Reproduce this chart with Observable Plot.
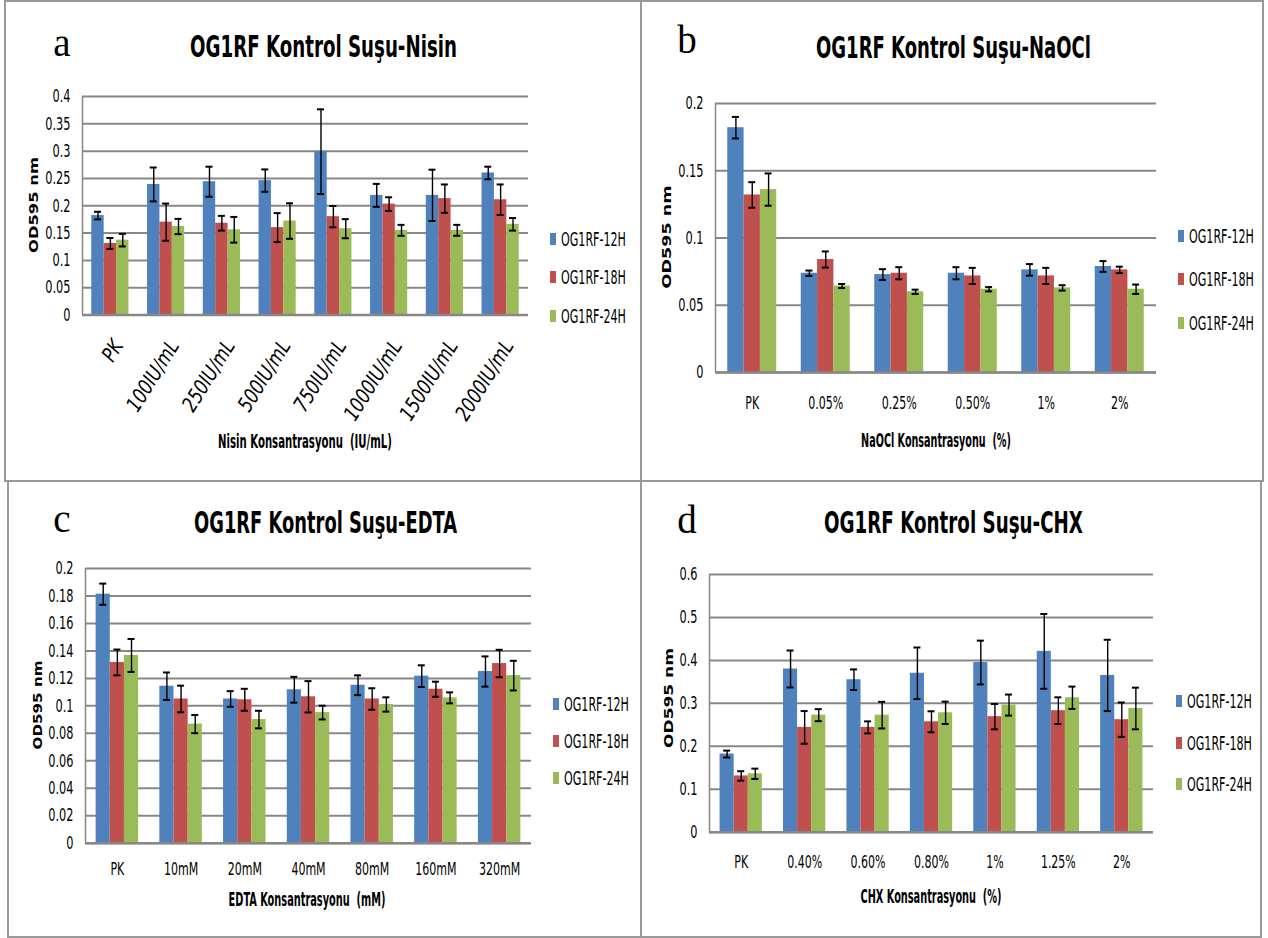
<!DOCTYPE html>
<html>
<head>
<meta charset="utf-8">
<script src="https://cdn.jsdelivr.net/npm/d3@7"></script>
<script src="https://cdn.jsdelivr.net/npm/@observablehq/plot@0.6"></script>
<style>
  html, body { margin: 0; padding: 0; background: #fff; }
  #page { position: relative; width: 1268px; height: 938px; overflow: hidden; background: #fff; }
  #page > svg { position: absolute; }
  #page > svg.rotated-ticks g[aria-label="x-axis tick label"] text { font-style: italic; }
</style>
</head>
<body>
<div id="page"></div>
<script>
// Series shared by all four panels
const series = ["OG1RF-12H", "OG1RF-18H", "OG1RF-24H"];
const seriesColors = ["#4f81bd", "#c0504d", "#9bbb59"];

// (a) Nisin
const nisinCategories = ["PK", "100IU/mL", "250IU/mL", "500IU/mL", "750IU/mL", "1000IU/mL", "1500IU/mL", "2000IU/mL"];
const nisin12h    = [0.182, 0.239, 0.244, 0.246, 0.299, 0.219, 0.219, 0.260];
const nisin12hErr = [0.007, 0.031, 0.0275, 0.0205, 0.0775, 0.021, 0.047, 0.0115];
const nisin18h    = [0.131, 0.170, 0.168, 0.160, 0.180, 0.203, 0.213, 0.211];
const nisin18hErr = [0.010, 0.034, 0.0135, 0.0265, 0.0195, 0.0125, 0.026, 0.028];
const nisin24h    = [0.137, 0.162, 0.156, 0.172, 0.158, 0.155, 0.155, 0.166];
const nisin24hErr = [0.0115, 0.014, 0.0235, 0.0325, 0.0175, 0.010, 0.010, 0.0115];
const nisinTicks  = [0, 0.05, 0.1, 0.15, 0.2, 0.25, 0.3, 0.35, 0.4];

// (b) NaOCl
const naoclCategories = ["PK", "0.05%", "0.25%", "0.50%", "1%", "2%"];
const naocl12h    = [0.182, 0.0738, 0.0728, 0.0738, 0.0763, 0.0788];
const naocl12hErr = [0.008, 0.002, 0.004, 0.0045, 0.0043, 0.004];
const naocl18h    = [0.132, 0.084, 0.0738, 0.0718, 0.0718, 0.0763];
const naocl18hErr = [0.0095, 0.006, 0.0045, 0.006, 0.006, 0.0024];
const naocl24h    = [0.136, 0.0643, 0.060, 0.0619, 0.0629, 0.0619];
const naocl24hErr = [0.012, 0.0015, 0.0016, 0.0016, 0.002, 0.0035];
const naoclTicks  = [0, 0.05, 0.1, 0.15, 0.2];

// (c) EDTA
const edtaCategories = ["PK", "10mM", "20mM", "40mM", "80mM", "160mM", "320mM"];
const edta12h    = [0.1813, 0.1143, 0.105, 0.1117, 0.115, 0.1216, 0.125];
const edta12hErr = [0.0077, 0.010, 0.0057, 0.0094, 0.0072, 0.0079, 0.011];
const edta18h    = [0.1316, 0.105, 0.1044, 0.1066, 0.105, 0.1121, 0.1308];
const edta18hErr = [0.0094, 0.0097, 0.008, 0.0114, 0.0078, 0.0055, 0.010];
const edta24h    = [0.1367, 0.0867, 0.090, 0.0951, 0.101, 0.1058, 0.122];
const edta24hErr = [0.012, 0.0066, 0.0064, 0.005, 0.0052, 0.004, 0.0108];
const edtaTicks  = [0, 0.02, 0.04, 0.06, 0.08, 0.1, 0.12, 0.14, 0.16, 0.18, 0.2];

// (d) CHX
const chxCategories = ["PK", "0.40%", "0.60%", "0.80%", "1%", "1.25%", "2%"];
const chx12h    = [0.182, 0.380, 0.355, 0.370, 0.395, 0.421, 0.365];
const chx12hErr = [0.008, 0.043, 0.024, 0.060, 0.051, 0.087, 0.083];
const chx18h    = [0.131, 0.244, 0.244, 0.257, 0.269, 0.283, 0.262];
const chx18hErr = [0.011, 0.038, 0.014, 0.0245, 0.0295, 0.031, 0.040];
const chx24h    = [0.136, 0.2725, 0.2725, 0.278, 0.296, 0.313, 0.288];
const chx24hErr = [0.012, 0.014, 0.031, 0.026, 0.0245, 0.026, 0.0485];
const chxTicks  = [0, 0.1, 0.2, 0.3, 0.4, 0.5, 0.6];

const CONDENSED = "'DejaVu Sans Condensed', 'Liberation Sans Narrow', sans-serif";
const GRID = "#878787";
const Y_TICK_SQUEEZE = 0.7;   // horizontal squeeze of tick labels (tall, narrow lettering)
const X_TICK_SQUEEZE = 0.68;
const page = document.getElementById("page");

const panels = [
  {
    letter: "a", title: "OG1RF Kontrol Suşu-Nisin", xTitle: "Nisin Konsantrasyonu  (IU/mL)",
    categories: nisinCategories, values: [nisin12h, nisin18h, nisin24h], errors: [nisin12hErr, nisin18hErr, nisin24hErr],
    ticks: nisinTicks, yMax: 0.4,
    frame: {left: 82, right: 528, top: 96, bottom: 314.5}, marginBottom: 130,
    xAxis: {tickPadding: 27, tickRotate: -58, fontSize: 21, dx: 8}, rotated: true,
    box: [5, 1, 636, 480], letterPos: [62, 56], titlePos: [323.5, 57], titleLen: 267,
    xTitlePos: [305, 448], xTitleLen: 174, yLabelPos: [33, 205], yLabelLen: 96,
    legendX: 550, legendY: [239, 277, 316]
  },
  {
    letter: "b", title: "OG1RF Kontrol Suşu-NaOCl", xTitle: "NaOCl Konsantrasyonu  (%)",
    categories: naoclCategories, values: [naocl12h, naocl18h, naocl24h], errors: [naocl12hErr, naocl18hErr, naocl24hErr],
    ticks: naoclTicks, yMax: 0.2,
    frame: {left: 715, right: 1156, top: 103, bottom: 372}, marginBottom: 45,
    xAxis: {tickPadding: 24, tickRotate: 0, fontSize: 18, dx: 0},
    box: [641, 1, 622, 480], letterPos: [687, 53], titlePos: [953.5, 58], titleLen: 275,
    xTitlePos: [936, 447], xTitleLen: 150, yLabelPos: [667, 237], yLabelLen: 103,
    legendX: 1178, legendY: [236, 279, 323]
  },
  {
    letter: "c", title: "OG1RF Kontrol Suşu-EDTA", xTitle: "EDTA Konsantrasyonu  (mM)",
    categories: edtaCategories, values: [edta12h, edta18h, edta24h], errors: [edta12hErr, edta18hErr, edta24hErr],
    ticks: edtaTicks, yMax: 0.2,
    frame: {left: 84.5, right: 530.5, top: 568, bottom: 842.7}, marginBottom: 45,
    xAxis: {tickPadding: 19.5, tickRotate: 0, fontSize: 18, dx: 0},
    box: [8, 481, 633, 456], letterPos: [62, 532], titlePos: [325.5, 533], titleLen: 263,
    xTitlePos: [307, 906], xTitleLen: 157, yLabelPos: [37, 705], yLabelLen: 89,
    legendX: 553, legendY: [704, 741, 778]
  },
  {
    letter: "d", title: "OG1RF Kontrol Suşu-CHX", xTitle: "CHX Konsantrasyonu  (%)",
    categories: chxCategories, values: [chx12h, chx18h, chx24h], errors: [chx12hErr, chx18hErr, chx24hErr],
    ticks: chxTicks, yMax: 0.6,
    frame: {left: 709, right: 1153, top: 574, bottom: 831.7}, marginBottom: 45,
    xAxis: {tickPadding: 23.5, tickRotate: 0, fontSize: 18, dx: 0},
    box: [641, 481, 620, 456], letterPos: [687, 533], titlePos: [953.5, 533], titleLen: 259,
    xTitlePos: [931, 903], xTitleLen: 141, yLabelPos: [669, 698], yLabelLen: 100,
    legendX: 1176, legendY: [701, 743, 784]
  }
];

const tickFormat = d => String(+d.toFixed(3));

// Each category spans one unit of x; the three bars fill the middle two thirds
// (half a gap on either side), so bars in a group touch and groups stay apart.
const GROUP_START = 1 / 6;
const BAR_SPAN = 2 / 9;

// Squeeze tick labels horizontally about their own anchor point.
function squeezeTicks(svg, selector, factor) {
  svg.querySelectorAll(selector).forEach(t => {
    const tr = t.getAttribute("transform") || "";
    t.setAttribute("transform", `${tr} scale(${factor},1)`);
  });
}

function drawPanel(p) {
  const rows = [];
  p.categories.forEach((cat, i) => series.forEach((s, j) => {
    const x1 = i + GROUP_START + j * BAR_SPAN;
    rows.push({cat, series: s, x1, x2: x1 + BAR_SPAN, xc: x1 + BAR_SPAN / 2,
               value: p.values[j][i], err: p.errors[j][i]});
  }));
  const n = p.categories.length;
  const centers = p.categories.map((c, i) => i + 0.5);
  const ml = 70, mr = 6, mt = 12, mb = p.marginBottom;
  const width = p.frame.right - p.frame.left + ml + mr;
  const height = p.frame.bottom - p.frame.top + mt + mb;
  const chart = Plot.plot({
    width, height,
    marginLeft: ml, marginRight: mr, marginTop: mt, marginBottom: mb,
    style: {fontFamily: CONDENSED, fontSize: "16px", color: "#000", background: "transparent", overflow: "visible"},
    x: {domain: [0, n], label: null},
    y: {domain: [0, p.yMax], label: null},
    color: {domain: series, range: seriesColors},
    marks: [
      Plot.gridY(p.ticks, {stroke: GRID, strokeOpacity: 1, strokeWidth: 2}),
      Plot.ruleX([0], {stroke: GRID, strokeWidth: 1.5}),
      Plot.axisY(p.ticks, {tickSize: 0, tickPadding: 12, tickFormat, label: null, fontSize: 18}),
      Plot.rect(rows, {x1: "x1", x2: "x2", y1: 0, y2: "value", fill: "series"}),
      Plot.ruleX(rows, {x: "xc", y1: d => d.value - d.err, y2: d => d.value + d.err, stroke: "#000", strokeWidth: 1.4}),
      Plot.ruleY(rows, {x1: "xc", x2: "xc", y: d => d.value + d.err, insetLeft: -3.5, insetRight: -3.5, stroke: "#000", strokeWidth: 2}),
      Plot.ruleY(rows, {x1: "xc", x2: "xc", y: d => d.value - d.err, insetLeft: -3.5, insetRight: -3.5, stroke: "#000", strokeWidth: 2}),
      Plot.ruleY([0], {stroke: GRID, strokeWidth: 2.5}),
      Plot.axisX(centers, {
        label: null, tickSize: 0,
        tickFormat: v => p.categories[Math.floor(v)],
        tickPadding: p.xAxis.tickPadding, tickRotate: p.xAxis.tickRotate,
        fontSize: p.xAxis.fontSize, dx: p.xAxis.dx
      })
    ]
  });
  squeezeTicks(chart, 'g[aria-label="y-axis tick label"] text', Y_TICK_SQUEEZE);
  squeezeTicks(chart, 'g[aria-label="x-axis tick label"] text', p.rotated ? 0.88 : X_TICK_SQUEEZE);
  if (p.rotated) chart.classList.add("rotated-ticks");
  chart.style.left = (p.frame.left - ml) + "px";
  chart.style.top = (p.frame.top - mt) + "px";
  page.appendChild(chart);
}

panels.forEach(drawPanel);

// Panel frames, letters, titles, axis titles and legends
const overlay = d3.create("svg")
  .attr("width", 1268).attr("height", 938)
  .style("left", "0px").style("top", "0px")
  .style("pointer-events", "none");

// Text squeezed to a given width; the transform is finished once it can be measured
function fittedText(x, y, len, str, attrs, rotate = 0) {
  const t = overlay.append("text").attr("fill", "#000").text(str)
    .attr("data-x", x).attr("data-y", y).attr("data-len", len).attr("data-rot", rotate);
  for (const [k, v] of Object.entries(attrs)) t.attr(k, v);
  t.attr("transform", `translate(${x},${y})${rotate ? ` rotate(${rotate})` : ""}`);
  return t;
}

for (const p of panels) {
  const [bx, by, bw, bh] = p.box;
  overlay.append("rect")
    .attr("x", bx).attr("y", by).attr("width", bw).attr("height", bh)
    .attr("fill", "none").attr("stroke", "#9a9a9a").attr("stroke-width", 2);

  overlay.append("text")
    .attr("x", p.letterPos[0]).attr("y", p.letterPos[1])
    .attr("text-anchor", "middle")
    .attr("font-family", "'Liberation Serif', 'Times New Roman', serif")
    .attr("font-size", 39).attr("fill", "#000")
    .text(p.letter);

  fittedText(p.titlePos[0], p.titlePos[1], p.titleLen, p.title, {
    "text-anchor": "middle", "font-family": CONDENSED, "font-weight": "bold", "font-size": 30
  });

  fittedText(p.xTitlePos[0], p.xTitlePos[1], p.xTitleLen, p.xTitle, {
    "text-anchor": "middle", "font-family": CONDENSED, "font-weight": "bold", "font-size": 19,
    "style": "white-space: pre"
  });

  fittedText(p.yLabelPos[0], p.yLabelPos[1], p.yLabelLen, "OD595 nm", {
    "text-anchor": "middle", "dominant-baseline": "central",
    "font-family": "'DejaVu Sans', Verdana, sans-serif", "font-weight": "bold", "font-size": 13
  }, -90);

  series.forEach((s, j) => {
    const cy = p.legendY[j];
    overlay.append("rect")
      .attr("x", p.legendX).attr("y", cy - 6).attr("width", 6).attr("height", 12)
      .attr("fill", seriesColors[j]);
    fittedText(p.legendX + 11, cy + 7, 65, s, {"font-family": CONDENSED, "font-size": 20});
  });
}

page.appendChild(overlay.node());

overlay.selectAll("text[data-len]").each(function () {
  const natural = this.getComputedTextLength();
  const len = +this.getAttribute("data-len");
  const rot = +this.getAttribute("data-rot");
  const s = natural > 0 ? len / natural : 1;
  this.setAttribute("transform",
    `translate(${this.getAttribute("data-x")},${this.getAttribute("data-y")})${rot ? ` rotate(${rot})` : ""} scale(${s},1)`);
});
</script>
</body>
</html>
